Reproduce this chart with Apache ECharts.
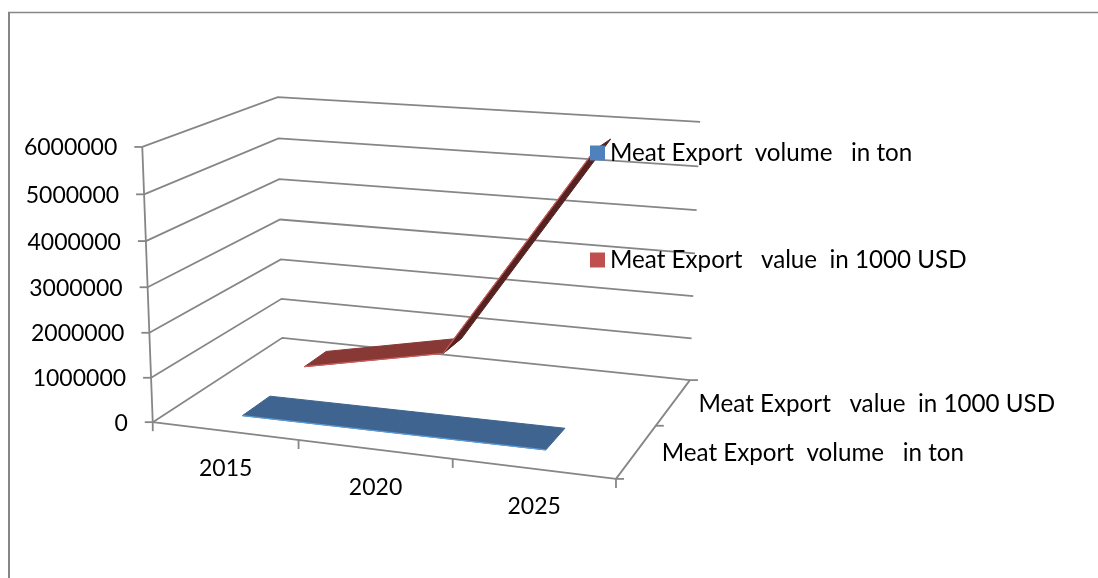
<!DOCTYPE html>
<html><head><meta charset="utf-8">
<style>html,body{margin:0;padding:0;background:#fff}#c{width:1098px;height:578px}</style>
<script src="https://cdn.jsdelivr.net/npm/echarts@6/dist/echarts.min.js"></script>
</head><body><div id="c"></div>
<script>
const categories = ['2015', '2020', '2025'];
const yTicks = [0, 1000000, 2000000, 3000000, 4000000, 5000000, 6000000];
const volumeName = 'Meat Export  volume   in ton';
const valueName = 'Meat Export   value  in 1000 USD';
const depthLabels = ['Meat Export  volume   in ton', 'Meat Export   value  in 1000 USD'];
const volumeValues = [60000, 80000, 100000];
const valueValues = [180000, 850000, 5730000];

const FONT = 'Lato';
const GRID = {left: 100, top: 100, width: 800, height: 400};
const GRAY = '#868686';
// wall corners as drawn in the picture: [unit x, unit depth, unit value] -> pixel
const corners = [
  [0,0,0,153,422],[1,0,0,616,479],[0,1,0,282,338],[1,1,0,690,380],
  [0,0,1,142,147],[0,1,1,278,97],[1,1,1,700,122]
];
function solveProjection(pts){
  const rows=[],rhs=[];
  pts.forEach(([x,d,v,X,Y])=>{
    rows.push([x,d,v,1,0,0,0,0,-X*x,-X*d,-X*v]);rhs.push(X);
    rows.push([0,0,0,0,x,d,v,1,-Y*x,-Y*d,-Y*v]);rhs.push(Y);
  });
  const n=11,M=[];
  for(let i=0;i<n;i++){M[i]=[];for(let j=0;j<=n;j++){let s=0;
    rows.forEach((r,k)=>{s+=r[i]*(j<n?r[j]:rhs[k]);});M[i][j]=s;}}
  for(let i=0;i<n;i++){let p=i;for(let k=i+1;k<n;k++)if(Math.abs(M[k][i])>Math.abs(M[p][i]))p=k;
    [M[i],M[p]]=[M[p],M[i]];
    for(let k=0;k<n;k++){if(k===i)continue;const f=M[k][i]/M[i][i];for(let j=i;j<=n;j++)M[k][j]-=f*M[i][j];}}
  return M.map((r,i)=>r[n]/r[i]);
}
const H=solveProjection(corners);
function project(x,d,v){
  const w=H[8]*x+H[9]*d+H[10]*v+1;
  return [(H[0]*x+H[1]*d+H[2]*v+H[3])/w,(H[4]*x+H[5]*d+H[6]*v+H[7])/w];
}
function unit(api,cat,val){
  const c=api.coord([cat,val]);
  return [(c[0]-GRID.left)/GRID.width,(GRID.top+GRID.height-c[1])/GRID.height];
}
const lineStyle={stroke:GRAY,lineWidth:1.8,fill:null};
function poly(points){return {type:'polyline',shape:{points},style:lineStyle,silent:true};}
function text(str,x,y,align,size){
  return {type:'text',x,y,silent:true,style:{text:str,fill:'#000',font:size+'px '+FONT,align,verticalAlign:'middle'}};
}
function renderYTick(params,api){
  const val=api.value(1),uv=unit(api,0,val)[1];
  const f=project(0,0,uv),b=project(0,1,uv),r=project(1,1,uv);
  return {type:'group',children:[
    poly([f,b,r]),
    poly([[f[0]-8,f[1]],f]),
    text(String(val),f[0]-25,f[1]+1,'right',23)
  ]};
}
function renderCat(params,api){
  const i=api.value(0),ux=unit(api,i,0)[0],half=0.5/categories.length;
  const a=project(ux-half,0,0),b=project(ux+half,0,0),c=project(ux,0,0);
  const ch=[text(categories[i],c[0]+1,c[1]+38,'center',23),poly([b,[b[0],b[1]+9]])];
  if(i===0)ch.push(poly([a,[a[0],a[1]+9]]));
  return {type:'group',children:ch};
}
function renderFrame(params,api){
  return {type:'group',children:[
    poly([project(0,0,0),project(0,0,1)]),
    poly([project(0,0,0),project(1,0,0)]),
    poly([project(1,0,0),project(1,1,0)]),
    poly([project(1,0,0),[project(1,0,0)[0]+8,project(1,0,0)[1]]]),
    poly([project(1,.5,0),[project(1,.5,0)[0]+8,project(1,.5,0)[1]]]),
    poly([project(1,1,0),[project(1,1,0)[0]+8,project(1,1,0)[1]]]),
    ...depthLabels.map((t,i)=>{const p=project(1,(i+.5)/depthLabels.length,0);return text(t,p[0]+25,p[1]+2,'left',24.2);})
  ]};
}
function ribbon(depth,half,fills,edge){
  return function(params,api){
    const i=params.dataIndex;
    const a=unit(api,api.value(0),api.value(1)),b=unit(api,api.value(2),api.value(3));
    const f0=project(a[0],depth-half,a[1]),b0=project(a[0],depth+half,a[1]);
    const f1=project(b[0],depth-half,b[1]),b1=project(b[0],depth+half,b[1]);
    return {type:'group',children:[
      {type:'polygon',shape:{points:[f0,b0,b1,f1]},style:{fill:fills[i],stroke:fills[i],lineWidth:1},silent:true},
      {type:'polyline',shape:{points:[f0,f1]},style:{stroke:edge,lineWidth:1.2,fill:null},silent:true}
    ]};
  };
}
function segments(vals){return vals.slice(0,-1).map((v,i)=>[i,v,i+1,vals[i+1]]);}
const enc={x:0,y:1};
const chart=echarts.init(document.getElementById('c'),null,{renderer:'canvas'});
chart.setOption({
  animation:false,backgroundColor:'#fff',
  textStyle:{fontFamily:FONT},
  grid:GRID,
  xAxis:{type:'category',data:categories,show:false},
  yAxis:{type:'value',min:0,max:6000000,interval:1000000,show:false},
  legend:{data:[volumeName,valueName],orient:'vertical',left:590,top:141,padding:0,itemWidth:15,itemHeight:15,itemGap:83,
    icon:'rect',selectedMode:false,textStyle:{fontSize:24.2,color:'#000',fontFamily:FONT}},
  graphic:[
    {type:'line',shape:{x1:9,y1:12,x2:9,y2:578},style:{stroke:GRAY,lineWidth:2},silent:true},
    {type:'line',shape:{x1:8,y1:12.5,x2:1098,y2:12.5},style:{stroke:GRAY,lineWidth:1.5},silent:true}
  ],
  series:[
    {type:'custom',clip:false,silent:true,encode:enc,data:yTicks.map(v=>[0,v]),renderItem:renderYTick,z:1},
    {type:'custom',clip:false,silent:true,encode:enc,data:categories.map((c,i)=>[i,0]),renderItem:renderCat,z:1},
    {type:'custom',clip:false,silent:true,encode:enc,data:[[0,0]],renderItem:renderFrame,z:1},
    {name:valueName,type:'custom',clip:false,silent:true,encode:enc,itemStyle:{color:'#c0504d'},z:2,
      data:segments(valueValues),renderItem:ribbon(.72,.095,['#883835','#552220'],'#c95f5b')},
    {name:volumeName,type:'custom',clip:false,silent:true,encode:enc,itemStyle:{color:'#4f81bd'},z:2,
      data:segments(volumeValues),renderItem:ribbon(.235,.105,['#3f648f','#3f648f'],'#5b9bd5')}
  ]
});
</script></body></html>
